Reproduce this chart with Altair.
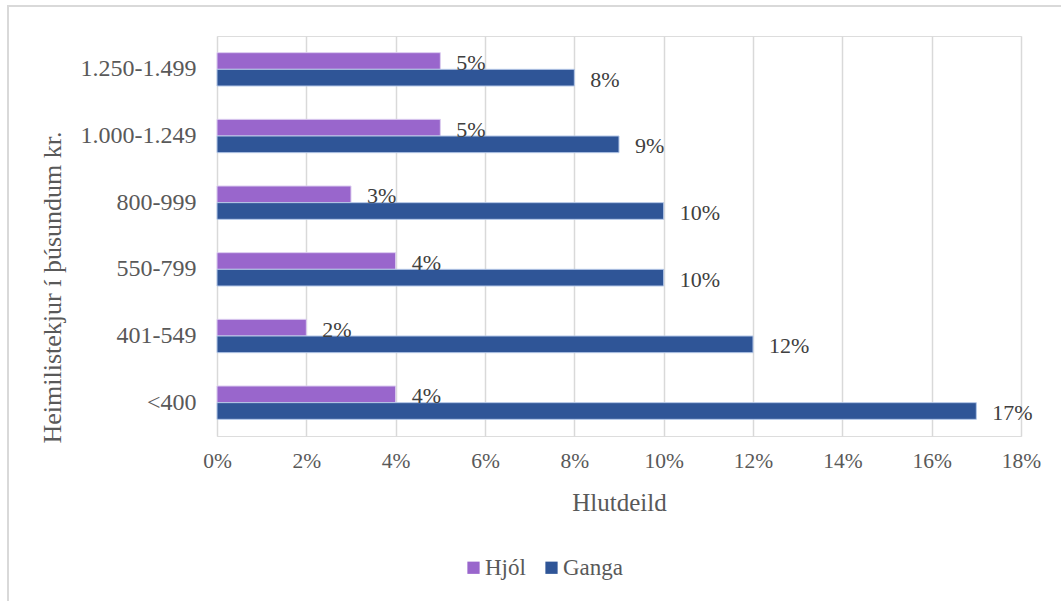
import altair as alt
import pandas as pd

categories = ["<400", "401-549", "550-799", "800-999", "1.000-1.249", "1.250-1.499"]
series = ["Hjól", "Ganga"]
hjol = [0.04, 0.02, 0.04, 0.03, 0.05, 0.05]
ganga = [0.17, 0.12, 0.10, 0.10, 0.09, 0.08]
x_ticks = [0, 0.02, 0.04, 0.06, 0.08, 0.10, 0.12, 0.14, 0.16, 0.18]

rows = []
for c, h, g in zip(categories, hjol, ganga):
    rows.append({"cat": c, "series": "Hjól", "value": h})
    rows.append({"cat": c, "series": "Ganga", "value": g})
df = pd.DataFrame(rows)

FONT = "Liberation Serif"
TXT = "#595959"
cat_order = list(reversed(categories))

x_enc = alt.X(
    "value:Q",
    scale=alt.Scale(domain=[0, 0.18], nice=False),
    axis=alt.Axis(
        values=x_ticks, format=".0%", grid=True, gridColor="#D9D9D9", gridWidth=1.5,
        domain=False, ticks=False, labelFlush=False, labelFont=FONT, labelFontSize=21.5,
        labelColor=TXT, labelPadding=14, title="Hlutdeild", titleFont=FONT,
        titleFontSize=25, titleFontWeight="normal", titleColor=TXT, titlePadding=19,
    ),
)
y_enc = alt.Y(
    "cat:N",
    sort=cat_order,
    scale=alt.Scale(paddingInner=0.5, paddingOuter=0.25),
    axis=alt.Axis(
        domain=False, ticks=False, grid=False, labelFont=FONT, labelFontSize=24,
        labelColor=TXT, labelPadding=21, title="Heimilistekjur í þúsundum kr.",
        titleFont=FONT, titleFontSize=26, titleFontWeight="normal", titleColor=TXT,
        titleX=-165, titleY=251, titleBaseline="middle", titleAngle=-90,
    ),
)
yoff = alt.YOffset("series:N", sort=series)

base = alt.Chart(df)
bars = base.mark_bar(strokeWidth=1).encode(
    x=x_enc,
    y=y_enc,
    yOffset=yoff,
    color=alt.Color(
        "series:N",
        scale=alt.Scale(domain=series, range=["#9966CC", "#2F5597"]),
        legend=alt.Legend(
            title=None, orient="none", legendX=245, legendY=520, direction="horizontal",
            symbolType="square", symbolSize=150, symbolStrokeWidth=0,
            labelFont=FONT, labelFontSize=23, labelColor=TXT, labelOffset=0,
            columnPadding=14, padding=0,
        ),
    ),
    stroke=alt.Stroke(
        "series:N", scale=alt.Scale(domain=series, range=["#DCCDF0", "#B4C7E7"]), legend=None
    ),
)
labels = base.mark_text(align="left", baseline="middle", dx=16, dy=2, font=FONT,
                        fontSize=22, color="#404040").encode(
    x=alt.X("value:Q"),
    y=alt.Y("cat:N", sort=cat_order),
    yOffset=yoff,
    text=alt.Text("value:Q", format=".0%"),
)
frame = alt.Chart(pd.DataFrame({"a": [0]})).mark_rect(
    fill="transparent", stroke="#D9D9D9", strokeWidth=2
).encode(x=alt.value(-209), x2=alt.value(860), y=alt.value(-30), y2=alt.value(600))

chart = alt.layer(frame, bars, labels).properties(
    width=804, height=400,
    autosize=alt.AutoSizeParams(type="none"),
    padding={"left": 217, "top": 36, "right": 40, "bottom": 165},
).configure_view(strokeWidth=0).configure(background="white")

chart.save("out.html", embed_options={"renderer": "svg", "actions": False})
